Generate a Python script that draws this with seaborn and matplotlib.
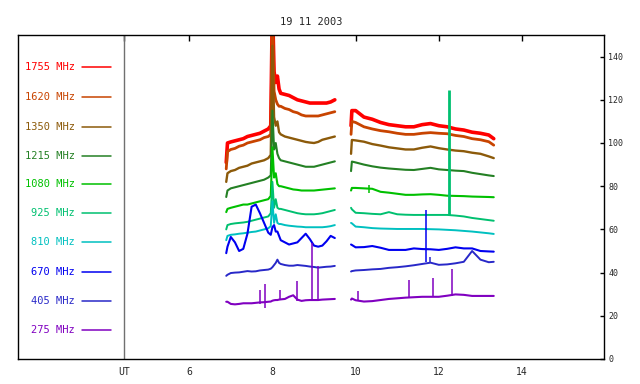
import matplotlib
matplotlib.use("Agg")
import matplotlib.pyplot as plt
import seaborn as sns

# ---------------- data ----------------
TITLE = "19 11 2003"
FREQS = ["1755 MHz", "1620 MHz", "1350 MHz", "1215 MHz", "1080 MHz",
         "925 MHz", "810 MHz", "670 MHz", "405 MHz", "275 MHz"]
COLORS = ["#FF0000", "#C84400", "#8C5A0A", "#248024", "#00C000",
          "#00C070", "#00C0C0", "#0000F0", "#2828C8", "#8000C0"]
LEG_Y = [135.0, 121.2, 107.5, 94.1, 80.8, 67.4, 54.0, 40.1, 26.7, 13.3]
LEG_X = [3.42, 4.12]
LEG_TEXT_X = 3.25
UT_X = 4.44

T1 = [6.89, 6.92, 7.00, 7.10, 7.20, 7.30, 7.40, 7.50, 7.60, 7.70, 7.80, 7.90, 7.96,
      8.00, 8.04, 8.08, 8.12, 8.16, 8.20, 8.30, 8.40, 8.50, 8.60, 8.70, 8.80, 8.90,
      9.00, 9.10, 9.20, 9.30, 9.40, 9.50]
T2 = [9.89, 9.91, 10.0, 10.2, 10.4, 10.6, 10.8, 11.0, 11.2, 11.4, 11.6, 11.8, 12.0,
      12.2, 12.4, 12.6, 12.8, 13.0, 13.2, 13.32]

S1755_A = [91, 100, 100.5, 101, 101.5, 102, 103, 103.5, 104, 104.5, 105.5, 106.5, 108,
           165, 133, 128, 131, 125, 123, 122.5, 122, 121, 120, 119.5, 119, 118.5,
           118.5, 118.5, 118.5, 118.5, 119, 120]
S1755_B = [108, 115, 115, 112, 111, 109.5, 108.5, 108, 107.5, 107.5, 108.5, 109, 108,
           107.5, 106.5, 106, 105, 104.5, 103.7, 102]
S1620_A = [88, 96, 97, 97.5, 98.5, 99, 100, 100.5, 101, 101.5, 102.5, 103, 104,
           165, 124, 120, 118, 117, 117, 116, 115.5, 114.5, 114, 113, 112.5, 112.5,
           112.5, 112.5, 113, 113.5, 114, 114.5]
S1620_B = [104, 110, 109.5, 107.5, 106.5, 105.7, 105.2, 104.5, 104, 104, 104.5, 104.8,
           104.5, 104.3, 103.5, 103, 102, 101.5, 100.6, 99]
S1350_A = [82, 86, 87, 87.5, 88.5, 89, 89.5, 90.5, 91, 91.5, 92, 93, 94.5,
           145, 112, 108, 110, 105, 104, 103, 102.5, 102, 101.5, 101, 100.5, 100.2,
           100, 100.5, 101.5, 102, 102.5, 103]
S1350_B = [95, 101.4, 101.2, 100.6, 99.5, 98.8, 98, 97.5, 97, 97, 97.8, 98.4, 97.6,
           97, 96.5, 96.2, 95.5, 95, 93.8, 93]
S1215_A = [75, 78, 79, 79.5, 80, 80.5, 81, 81.5, 82, 82.5, 83, 84, 85,
           115, 97, 100, 95, 93, 92, 91.5, 91, 90.5, 90, 89.5, 89, 89,
           89, 89.5, 90, 90.5, 91, 91.5]
S1215_B = [87, 91.4, 91, 90, 89.2, 88.6, 88.2, 87.9, 87.6, 87.5, 88, 88.5, 87.8,
           87.5, 87.2, 87, 86.2, 85.6, 85, 84.7]
S1080_A = [68, 69.5, 70, 70.5, 71, 71.5, 71.5, 72, 72.5, 73, 73.5, 74, 75.5,
           98, 84, 86, 81, 80, 80, 79.5, 79, 78.5, 78.3, 78, 78, 78,
           78, 78.2, 78.4, 78.6, 78.8, 79]
S1080_B = [78, 79.2, 79.2, 79, 78.8, 77.4, 77, 76.5, 76, 76, 76.2, 76.3, 76,
           75.6, 75.5, 75.4, 75.2, 75.1, 75, 74.9]
S925_A = [60, 62, 62.5, 62.8, 63, 63.2, 63.5, 64, 64.5, 65, 65.5, 66, 67.5,
          82, 70, 74, 70, 69.5, 69.5, 69, 68.5, 68, 67.5, 67.2, 67, 67,
          67, 67.2, 67.5, 68, 68.5, 69]
S925_B = [70, 69.3, 67.7, 67.5, 67.2, 67, 68, 67, 66.8, 66.7, 66.7, 66.7, 66.7,
          66.7, 66.4, 66, 65.3, 64.8, 64.3, 64]
S810_A = [55, 57, 57.5, 57.7, 58, 58.2, 58.5, 58.8, 59, 59.5, 60, 60.5, 61.5,
          73, 63, 67, 63, 62.5, 62.5, 62, 61.7, 61.5, 61.3, 61.2, 61, 61,
          61, 61, 61, 61.2, 61.5, 62]
S810_B = [63, 62.8, 61.3, 61, 60.6, 60.4, 60.3, 60.2, 60.2, 60.2, 60.2, 60.1, 60,
          59.8, 59.6, 59.3, 59, 58.6, 58.2, 57.9]
S670_A = [49, 52, 56.5, 54, 50, 51, 58, 70.5, 71.5, 67.5, 63, 58.5, 57.5,
          61, 62, 59, 59, 57, 55, 54, 53, 53.5, 54, 56, 58, 55.5,
          52.5, 52, 52.5, 54.5, 57, 56]
S670_B = [53, 52.8, 51.7, 51.8, 52.3, 51.5, 50.5, 50.5, 50.5, 51.2, 50.9, 50.8, 50.5,
          51, 51.7, 51.2, 51.2, 50, 49.8, 49.7]
S405_A = [38.5, 39, 39.8, 40, 40.1, 40.4, 40.7, 40.5, 40.6, 41, 41.2, 41.4, 41.8,
          42.5, 43.5, 44.5, 46, 44.5, 44, 43.5, 43.2, 43.2, 43.5, 43.3, 43.1, 42.8,
          42.6, 42.3, 42.5, 42.7, 42.8, 43.1]
S405_B = [40.5, 40.7, 41, 41.2, 41.5, 41.7, 42.2, 42.5, 42.9, 43.4, 44, 44.6, 43.6,
          43.8, 44.3, 45, 50, 46, 44.8, 45]
S275_A = [26.5, 26.5, 25.5, 25.3, 25.5, 25.8, 25.8, 25.8, 26, 26.2, 26.3, 26.5, 26.6,
          27, 27.2, 27.3, 27.3, 27.5, 27.6, 27.8, 28.8, 29.5, 27.5, 26.9, 27.2, 27.3,
          27.3, 27.3, 27.5, 27.6, 27.7, 27.8]
S275_B = [27.5, 28, 27.2, 26.6, 26.8, 27.3, 27.8, 28.1, 28.4, 28.6, 28.8, 28.8, 28.8,
          29.3, 29.9, 29.7, 29.2, 29.2, 29.2, 29.2]

SERIES_A = [S1755_A, S1620_A, S1350_A, S1215_A, S1080_A, S925_A, S810_A, S670_A, S405_A, S275_A]
SERIES_B = [S1755_B, S1620_B, S1350_B, S1215_B, S1080_B, S925_B, S810_B, S670_B, S405_B, S275_B]
LWS = [2.6, 2.0, 1.7, 1.5, 1.5, 1.4, 1.4, 1.5, 1.4, 1.5]

# spikes (index of series, time, base, top)
SPIKE_IDX = [9, 9, 9, 9, 9, 9, 9, 9, 9, 9, 7, 8, 5, 4]
SPIKE_T = [7.70, 7.82, 8.18, 8.58, 8.94, 9.10, 10.06, 11.29, 11.87, 12.32, 11.69, 11.79, 12.25, 10.32]
SPIKE_LO = [25.5, 23.6, 27.5, 27.0, 27.3, 27.3, 26.8, 28.4, 28.8, 29.3, 45.0, 44.6, 66.7, 77.0]
SPIKE_HI = [32.0, 34.7, 32.0, 36.3, 53.5, 43.0, 31.5, 36.6, 37.6, 41.7, 69.0, 47.4, 124.5, 80.6]
SPIKE_LW = [1.1, 1.1, 1.1, 1.1, 1.1, 1.1, 1.1, 1.1, 1.1, 1.1, 1.1, 1.1, 2.0, 1.1]

XTICKS = [UT_X, 6, 8, 10, 12, 14]
XTICKLABELS = ["UT", "6", "8", "10", "12", "14"]
YTICKS = [0, 20, 40, 60, 80, 100, 120, 140]

# ---------------- drawing ----------------
sns.set_style("white")
plt.rcParams["font.family"] = ["DejaVu Sans Mono", "DejaVu Sans"]

fig = plt.figure(figsize=(6.4, 3.84), dpi=100)
ax = fig.add_axes([18 / 640, 25 / 384, 586 / 640, 324 / 384])

ax.axvline(UT_X, color="#707070", lw=1.0, zorder=1)

for i in range(len(FREQS)):
    c = COLORS[i]
    sns.lineplot(x=T1, y=SERIES_A[i], ax=ax, color=c, lw=LWS[i], estimator=None,
                 sort=False, legend=False)
    sns.lineplot(x=T2, y=SERIES_B[i], ax=ax, color=c, lw=LWS[i], estimator=None,
                 sort=False, legend=False)
    sns.lineplot(x=LEG_X, y=[LEG_Y[i], LEG_Y[i]], ax=ax, color=c, lw=1.1,
                 estimator=None, legend=False)
    ax.text(LEG_TEXT_X, LEG_Y[i], FREQS[i], color=c, ha="right", va="center",
            fontsize=7.5)

for k in range(len(SPIKE_T)):
    ax.vlines(SPIKE_T[k], SPIKE_LO[k], SPIKE_HI[k], color=COLORS[SPIKE_IDX[k]],
              lw=SPIKE_LW[k])

ax.set_xlim(1.885, 15.97)
ax.set_ylim(0, 150)
ax.set_xticks(XTICKS)
ax.set_xticklabels(XTICKLABELS)
ax.set_yticks(YTICKS)
ax.yaxis.tick_right()
ax.tick_params(axis="x", direction="in", length=4, width=1, top=True,
               labeltop=False, labelsize=7, pad=6, color="black")
ax.tick_params(axis="y", direction="in", length=3, width=1, left=False, right=True,
               labelleft=False, labelright=True, labelsize=6, pad=3, color="black")
for s in ax.spines.values():
    s.set_visible(True)
    s.set_color("black")
    s.set_linewidth(1.0)
ax.set_xlabel("")
ax.set_ylabel("")
ax.set_title(TITLE, fontsize=7.5, pad=7)

fig.savefig("out.png", dpi=100)
